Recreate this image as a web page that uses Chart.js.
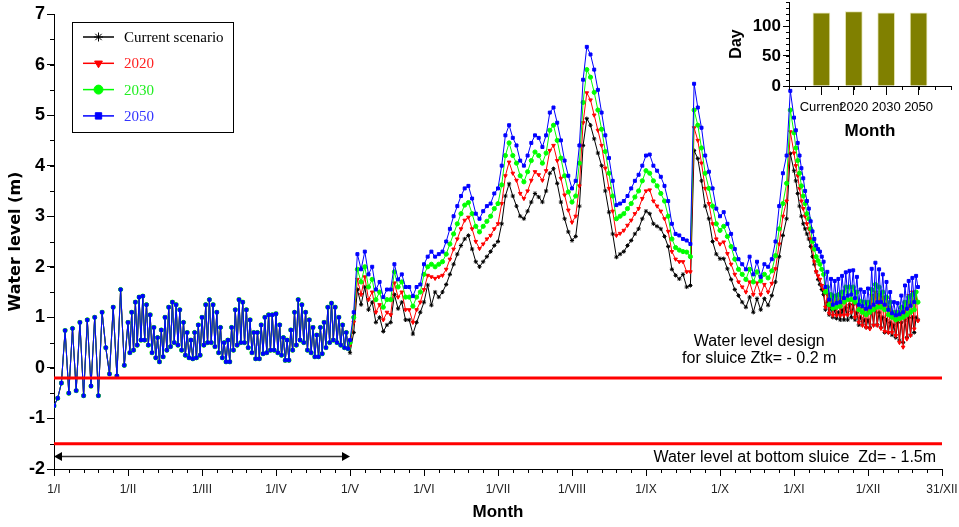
<!DOCTYPE html>
<html>
<head>
<meta charset="utf-8">
<script src="https://cdn.jsdelivr.net/npm/chart.js@4.4.1/dist/chart.umd.min.js"></script>
<style>
  body { margin: 0; background: #fff; }
  #wrap { position: relative; width: 959px; height: 527px; }
  #main { position: absolute; left: 0; top: 0; }
  #inset { position: absolute; left: 700px; top: 0; }
</style>
</head>
<body>
<div id="wrap">
  <canvas id="main" width="959" height="527"></canvas>
  <canvas id="inset" width="259" height="150"></canvas>
</div>
<script>
// tick labels of the month axis (0 = 1/I ... 12 = 31/XII)
const monthLabels = ['1/I', '1/II', '1/III', '1/IV', '1/V', '1/VI', '1/VII', '1/VIII', '1/IX', '1/X', '1/XI', '1/XII', '31/XII'];

// Jan: one reading every 1/20 month, scenarios coincide
const tideJan = [
    -0.75, -0.6, -0.3, 0.74, -0.5, 0.78, -0.45, 0.9, -0.55, 0.95,
    -0.36, 1.0, -0.55, 1.1, 0.4, -0.12, 1.2, -0.16, 1.55, 0.05
];

// Feb - Apr: high / low water every 1/40 month, scenarios coincide
const tideFebApr = [
    0.9, 0.3, 1.1, 0.35, 1.3, 0.45, 1.4, 0.55, 1.42, 0.55, 1.25, 0.45, 1.05, 0.3, 0.8, 0.2, 0.6, 0.12, 0.75, 0.22,
    1.0, 0.35, 1.2, 0.42, 1.3, 0.5, 1.25, 0.45, 1.15, 0.35, 0.9, 0.25, 0.7, 0.2, 0.55, 0.18, 0.7, 0.2, 0.85, 0.25,
    1.0, 0.45, 1.25, 0.5, 1.35, 0.5, 1.25, 0.42, 1.1, 0.3, 0.8, 0.2, 0.5, 0.12, 0.55, 0.12, 0.8, 0.35, 1.15, 0.45,
    1.35, 0.5, 1.3, 0.5, 1.15, 0.4, 0.95, 0.3, 0.7, 0.18, 0.7, 0.18, 0.85, 0.28, 1.0, 0.3, 1.05, 0.35, 1.05, 0.35,
    1.07, 0.3, 0.85, 0.25, 0.6, 0.15, 0.55, 0.15, 0.75, 0.35, 1.1, 0.45, 1.35, 0.55, 1.25, 0.5, 1.1, 0.35, 0.95, 0.3,
    0.8, 0.22, 0.65, 0.22, 0.8, 0.28, 0.9, 0.4, 1.2, 0.5, 1.28, 0.55, 1.2, 0.5, 1.0, 0.45, 0.85, 0.4, 0.7, 0.38
];

// May - Oct: one reading every 1/20 month
const currentMayOct = [
    0.3, 0.7, 1.55, 1.25, 1.6, 1.15, 1.3, 0.9, 1.0, 0.72,
    0.85, 0.9, 1.45, 1.17, 1.3, 0.95, 0.95, 0.67, 0.9, 1.1,
    1.3, 1.64, 1.24, 1.5, 1.4, 1.5, 1.65, 1.85, 2.05, 2.25,
    2.42, 2.55, 2.62, 2.35, 2.1, 2.0, 2.1, 2.2, 2.3, 2.42,
    2.5, 2.85, 3.4, 3.64, 3.4, 3.2, 3.0, 2.95, 3.1, 3.28,
    3.45, 3.38, 3.28, 3.5, 3.85, 3.94, 3.65, 3.28, 2.95, 2.69,
    2.52, 2.6, 3.2, 4.4, 4.93, 4.8, 4.53, 4.25, 4.0, 3.5,
    3.08, 2.65, 2.19, 2.25, 2.3, 2.42, 2.52, 2.65, 2.75, 2.95,
    3.1, 3.05, 2.85, 2.8, 2.75, 2.6, 2.4, 1.95, 1.83, 1.76,
    1.85, 1.6, 1.63, 4.3, 4.14, 3.7, 3.2, 2.95, 2.5, 2.25,
    2.16, 2.16, 1.96, 1.75, 1.55, 1.43, 1.3, 1.2, 1.4, 1.1,
    1.37, 1.15, 1.37, 1.24, 1.43, 1.7, 2.2, 2.62, 2.95, 4.24
];
const s2020MayOct = [
    0.45, 0.9, 1.75, 1.45, 1.8, 1.35, 1.5, 1.1, 1.25, 0.95,
    1.1, 1.05, 1.68, 1.4, 1.5, 1.15, 1.15, 0.9, 1.15, 1.3,
    1.55, 1.83, 1.8, 1.77, 1.8, 1.83, 1.95, 2.15, 2.35, 2.55,
    2.75, 2.92, 2.98, 2.75, 2.5, 2.36, 2.45, 2.55, 2.62, 2.75,
    2.85, 3.25, 3.8, 4.07, 3.85, 3.71, 3.45, 3.35, 3.5, 3.71,
    3.88, 3.82, 3.71, 3.9, 4.3, 4.4, 4.1, 3.75, 3.42, 3.12,
    2.88, 3.0, 3.6, 4.85, 5.44, 5.3, 5.0, 4.7, 4.4, 3.95,
    3.55, 3.1, 2.62, 2.66, 2.72, 2.82, 2.92, 3.05, 3.15, 3.35,
    3.5, 3.52, 3.3, 3.2, 3.1, 2.95, 2.7, 2.3, 2.15, 2.1,
    2.1, 1.9, 1.9, 4.75, 4.5, 4.05, 3.55, 3.25, 2.85, 2.55,
    2.45, 2.49, 2.26, 2.05, 1.85, 1.7, 1.6, 1.5, 1.7, 1.45,
    1.68, 1.45, 1.65, 1.5, 1.67, 1.96, 2.45, 3.0, 3.3, 4.67
];
const s2030MayOct = [
    0.5, 1.0, 1.95, 1.7, 2.0, 1.6, 1.75, 1.35, 1.5, 1.2,
    1.35, 1.35, 1.9, 1.6, 1.7, 1.4, 1.4, 1.22, 1.4, 1.5,
    1.85, 2.0, 2.05, 2.0, 2.05, 2.1, 2.25, 2.45, 2.65, 2.85,
    3.05, 3.22, 3.27, 3.05, 2.8, 2.69, 2.8, 2.9, 3.0, 3.15,
    3.25, 3.62, 4.2, 4.45, 4.2, 4.05, 3.8, 3.68, 3.88, 4.1,
    4.27, 4.2, 4.05, 4.25, 4.7, 4.8, 4.5, 4.15, 3.8, 3.48,
    3.28, 3.4, 4.05, 5.25, 5.9, 5.75, 5.45, 5.1, 4.72, 4.28,
    3.85, 3.4, 2.95, 3.0, 3.05, 3.15, 3.25, 3.38, 3.5, 3.7,
    3.9, 3.85, 3.7, 3.6, 3.45, 3.3, 3.0, 2.55, 2.38, 2.33,
    2.3, 2.29, 2.2, 5.1, 4.8, 4.35, 3.85, 3.55, 3.2, 2.85,
    2.72, 2.8, 2.6, 2.4, 2.15, 1.95, 1.85, 1.75, 1.95, 1.7,
    1.9, 1.72, 1.85, 1.78, 1.92, 2.22, 2.75, 3.25, 3.65, 5.1
];
const s2050MayOct = [
    0.55, 1.1, 2.25, 1.95, 2.3, 1.85, 2.0, 1.55, 1.7, 1.4,
    1.55, 1.55, 2.05, 1.75, 1.85, 1.6, 1.6, 1.42, 1.6, 1.65,
    2.05, 2.2, 2.3, 2.2, 2.25, 2.3, 2.5, 2.75, 3.0, 3.2,
    3.4, 3.55, 3.6, 3.35, 3.05, 2.95, 3.1, 3.2, 3.25, 3.45,
    3.55, 4.0, 4.6, 4.8, 4.55, 4.4, 4.1, 4.0, 4.2, 4.45,
    4.6, 4.55, 4.37, 4.6, 5.05, 5.15, 4.85, 4.5, 4.1, 3.8,
    3.55, 3.7, 4.4, 5.7, 6.35, 6.2, 5.9, 5.5, 5.05, 4.6,
    4.15, 3.7, 3.22, 3.25, 3.3, 3.4, 3.55, 3.7, 3.82, 4.0,
    4.2, 4.22, 4.0, 3.9, 3.78, 3.6, 3.3, 2.85, 2.65, 2.62,
    2.55, 2.52, 2.45, 5.62, 5.15, 4.75, 4.2, 3.88, 3.55, 3.15,
    3.0, 3.08, 2.85, 2.65, 2.35, 2.15, 2.05, 1.95, 2.2, 1.85,
    2.1, 1.8, 2.05, 2.0, 2.15, 2.5, 3.2, 3.85, 4.2, 5.48
];

// Nov - Dec: one reading every 1/40 month
const currentNovDec = [
    3.9, 3.7, 3.45, 3.2, 3.0, 2.85, 2.75, 2.65, 2.55, 2.4, 2.2, 2.05, 1.9, 1.75, 1.65, 1.55,
    1.45, 1.15, 1.3, 1.05, 1.2, 1.0, 1.15, 0.98, 1.1, 0.95, 1.15, 0.95, 1.2, 0.95, 1.25, 1.0, 1.25, 0.95,
    1.1, 0.85, 1.0, 0.85, 0.95, 0.8, 0.95, 0.8, 1.15, 0.85, 1.2, 0.85, 1.1, 0.8, 1.0, 0.7, 0.95, 0.7,
    0.9, 0.65, 0.85, 0.6, 0.9, 0.55, 0.9, 0.5, 0.95, 0.6, 1.0, 0.65, 1.0, 0.7, 1.0, 0.95
];
const s2020NovDec = [
    4.25, 4.0, 3.8, 3.55, 3.3, 3.15, 3.0, 2.85, 2.75, 2.55, 2.35, 2.1, 1.9, 1.82, 1.75, 1.63,
    1.55, 1.2, 1.45, 1.08, 1.43, 1.04, 1.43, 1.04, 1.43, 1.04, 1.4, 1.04, 1.36, 1.05, 1.36, 1.1, 1.36, 1.0,
    1.25, 0.9, 1.18, 0.84, 1.17, 0.8, 1.23, 0.77, 1.43, 0.84, 1.5, 0.84, 1.45, 0.78, 1.4, 0.72, 1.36, 0.7,
    1.2, 0.7, 1.1, 0.64, 1.1, 0.5, 1.17, 0.41, 1.3, 0.57, 1.43, 0.64, 1.5, 0.77, 1.5, 0.93
];
const s2030NovDec = [
    4.65, 4.35, 4.1, 3.85, 3.6, 3.4, 3.25, 3.05, 2.95, 2.75, 2.5, 2.35, 2.2, 2.12, 2.05, 1.95,
    1.85, 1.5, 1.6, 1.25, 1.45, 1.18, 1.42, 1.2, 1.45, 1.22, 1.5, 1.3, 1.6, 1.35, 1.6, 1.35, 1.6, 1.3,
    1.5, 1.15, 1.32, 1.1, 1.3, 1.05, 1.3, 1.1, 1.55, 1.15, 1.65, 1.2, 1.6, 1.2, 1.5, 1.15, 1.4, 1.05,
    1.3, 1.0, 1.1, 0.95, 1.1, 0.97, 1.2, 1.0, 1.3, 1.05, 1.4, 1.1, 1.45, 1.15, 1.5, 1.3
];
const s2050NovDec = [
    4.95, 4.7, 4.45, 4.2, 3.95, 3.75, 3.5, 3.3, 3.15, 2.9, 2.7, 2.55, 2.42, 2.35, 2.3, 2.2,
    2.1, 1.6, 1.9, 1.35, 1.76, 1.25, 1.72, 1.28, 1.76, 1.3, 1.82, 1.38, 1.89, 1.43, 1.92, 1.45, 1.93, 1.38,
    1.8, 1.25, 1.55, 1.22, 1.5, 1.17, 1.57, 1.2, 1.96, 1.25, 2.08, 1.3, 1.95, 1.3, 1.85, 1.25, 1.7, 1.15,
    1.5, 1.08, 1.3, 1.04, 1.28, 1.06, 1.43, 1.1, 1.63, 1.17, 1.72, 1.23, 1.78, 1.3, 1.82, 1.6
];

const designLevel = -0.2;   // Ztk
const bottomLevel = -1.5;   // Zd
const closedSpan = [0, 4];  // 1/I -> 1/V
const closedLevel = -1.75;

// inset bar chart
const insetLabels = ['Current', '2020', '2030', '2050'];
const insetDays = [122, 124, 122, 122];

const sans = '"Liberation Sans", Arial, sans-serif';
Chart.defaults.font.family = sans;
Chart.defaults.color = '#000';

function toPoints(values, start, step) {
    return values.map((v, i) => ({ x: +(start + i * step).toFixed(4), y: v }));
}

function levelSet(label, mayOct, novDec, color, textColor, style, rot, order) {
    const pts = [].concat(
        toPoints(tideJan, 0, 0.05),
        toPoints(tideFebApr, 1, 0.025),
        toPoints(mayOct, 4, 0.05),
        toPoints(novDec, 10, 0.025)
    );
    return {
        label: label,
        inLegend: true,
        legendText: textColor,
        data: pts,
        borderColor: color,
        backgroundColor: color,
        borderWidth: 1,
        pointStyle: style,
        pointRotation: rot,
        pointRadius: 2.1,
        pointBorderWidth: 1,
        order: order
    };
}

function refLine(level) {
    return {
        data: [{ x: 0, y: level }, { x: 12, y: level }],
        borderColor: '#ff0000',
        borderWidth: 3,
        pointRadius: 0,
        order: 0
    };
}

// short minor tick marks
const minorTicks = {
    id: 'minorTicks',
    afterDraw(chart, args, opts) {
        const ctx = chart.ctx;
        ctx.save();
        ctx.strokeStyle = '#000';
        ctx.lineWidth = 1;
        (opts.marks || []).forEach(m => {
            const s = chart.scales[m.scale];
            for (let k = 0; ; k++) {
                const v = s.min + k * m.step;
                if (v > s.max + 1e-6) break;
                const p = Math.round(s.getPixelForValue(v)) + 0.5;
                ctx.beginPath();
                if (s.isHorizontal()) {
                    ctx.moveTo(p, s.top);
                    ctx.lineTo(p, s.top + m.len);
                } else {
                    ctx.moveTo(s.right, p);
                    ctx.lineTo(s.right - m.len, p);
                }
                ctx.stroke();
            }
        });
        ctx.restore();
    }
};

// boxed legend in the upper left corner
const legendBox = {
    id: 'legendBox',
    afterDraw(chart) {
        const ctx = chart.ctx;
        const items = chart.data.datasets.filter(d => d.inLegend).sort((a, b) => b.order - a.order);
        ctx.save();
        ctx.strokeStyle = '#000';
        ctx.lineWidth = 1;
        ctx.strokeRect(72.5, 22.5, 161, 110);
        items.forEach((d, i) => {
            const yy = 37 + i * 26.3;
            ctx.strokeStyle = d.borderColor;
            ctx.fillStyle = d.borderColor;
            ctx.lineWidth = 1.5;
            ctx.beginPath();
            ctx.moveTo(83, yy);
            ctx.lineTo(114, yy);
            ctx.stroke();
            ctx.lineWidth = 1;
            if (Chart.helpers && Chart.helpers.drawPoint) {
                Chart.helpers.drawPoint(ctx, { pointStyle: d.pointStyle, radius: 4.5, rotation: d.pointRotation || 0, borderWidth: 1 }, 98.5, yy);
            }
            ctx.fillStyle = d.legendText;
            ctx.font = '15px "Liberation Serif", "Times New Roman", serif';
            ctx.textAlign = 'left';
            ctx.textBaseline = 'middle';
            ctx.fillText(d.label, 124, yy + 1);
        });
        ctx.restore();
    }
};

// texts and the closing-period arrow
const notes = {
    id: 'notes',
    afterDatasetsDraw(chart) {
        const { ctx, scales: { x, y } } = chart;
        ctx.save();
        ctx.fillStyle = '#000';
        ctx.font = '16px ' + sans;
        ctx.textBaseline = 'middle';
        ctx.textAlign = 'center';
        ctx.fillText('Water level design', x.getPixelForValue(9.53), y.getPixelForValue(0.53));
        ctx.fillText('for sluice Ztk= - 0.2 m', x.getPixelForValue(9.53), y.getPixelForValue(0.18));
        ctx.textAlign = 'right';
        ctx.fillText('Water level at bottom sluice  Zd= - 1.5m', x.getPixelForValue(11.92), y.getPixelForValue(-1.77));

        const x0 = x.getPixelForValue(closedSpan[0]);
        const x1 = x.getPixelForValue(closedSpan[1]);
        const ya = Math.round(y.getPixelForValue(closedLevel)) + 0.5;
        ctx.strokeStyle = '#333';
        ctx.lineWidth = 1.5;
        ctx.beginPath();
        ctx.moveTo(x0 + 6, ya);
        ctx.lineTo(x1 - 6, ya);
        ctx.stroke();
        ctx.fillStyle = '#000';
        ctx.beginPath();
        ctx.moveTo(x0, ya); ctx.lineTo(x0 + 8, ya - 4.5); ctx.lineTo(x0 + 8, ya + 4.5); ctx.closePath();
        ctx.fill();
        ctx.beginPath();
        ctx.moveTo(x1, ya); ctx.lineTo(x1 - 8, ya - 4.5); ctx.lineTo(x1 - 8, ya + 4.5); ctx.closePath();
        ctx.fill();
        ctx.restore();
    }
};

const mainChart = new Chart(document.getElementById('main'), {
    type: 'line',
    data: {
        datasets: [
            refLine(designLevel),
            refLine(bottomLevel),
            levelSet('2050', s2050MayOct, s2050NovDec, '#0000ff', '#3333ff', 'rect', 0, 1),
            levelSet('2030', s2030MayOct, s2030NovDec, '#00ff00', '#22ee22', 'circle', 0, 2),
            levelSet('2020', s2020MayOct, s2020NovDec, '#ff0000', '#ff2222', 'triangle', 180, 3),
            levelSet('Current scenario', currentMayOct, currentNovDec, '#000000', '#000000', 'star', 0, 4)
        ]
    },
    options: {
        responsive: false,
        animation: false,
        layout: { padding: { top: 14, right: 17, left: 0, bottom: 0 } },
        plugins: {
            legend: { display: false },
            tooltip: { enabled: false },
            minorTicks: { marks: [{ scale: 'x', step: 0.2, len: 4 }, { scale: 'y', step: 0.5, len: 4 }] }
        },
        scales: {
            x: {
                type: 'linear',
                min: 0,
                max: 12,
                afterFit(s) { s.height = 58; s.paddingLeft = 0; s.paddingRight = 0; },
                ticks: {
                    stepSize: 1,
                    autoSkip: false,
                    maxRotation: 0,
                    padding: 6,
                    color: '#222',
                    font: { size: 12 },
                    callback: v => monthLabels[v]
                },
                grid: { drawOnChartArea: false, tickLength: 7, color: '#000' },
                border: { color: '#000', width: 1 },
                title: { display: true, text: 'Month', color: '#000', font: { size: 17, weight: 'bold' }, padding: { top: 0, bottom: 4 } }
            },
            y: {
                min: -2,
                max: 7,
                afterFit(s) { s.width = 54; s.paddingTop = 0; s.paddingBottom = 0; },
                ticks: {
                    stepSize: 1,
                    padding: 2,
                    color: '#000',
                    font: { size: 18, weight: 'bold' }
                },
                grid: { drawOnChartArea: false, tickLength: 7, color: '#000' },
                border: { color: '#000', width: 1 },
                title: { display: true, text: 'Water level (m)', color: '#000', font: { size: 16, weight: 'bold', family: '"DejaVu Sans", sans-serif' }, padding: { top: 6, bottom: 0 } }
            }
        }
    },
    plugins: [minorTicks, notes, legendBox]
});

const insetChart = new Chart(document.getElementById('inset'), {
    type: 'bar',
    data: {
        datasets: [{
            data: insetLabels.map((_, i) => ({ x: i + 1, y: insetDays[i] })),
            backgroundColor: '#808000',
            borderColor: '#e4e4b4',
            borderWidth: 1,
            barThickness: 17
        }]
    },
    options: {
        responsive: false,
        animation: false,
        layout: { padding: { top: 2, right: 8, left: 0, bottom: 0 } },
        plugins: {
            legend: { display: false },
            tooltip: { enabled: false },
            minorTicks: { marks: [{ scale: 'x', step: 0.5, len: 4 }, { scale: 'y', step: 10, len: 3 }] }
        },
        scales: {
            x: {
                type: 'linear',
                min: 0,
                max: 5,
                offset: false,
                afterFit(s) { s.height = 64; s.paddingLeft = 0; s.paddingRight = 0; },
                ticks: {
                    stepSize: 1,
                    autoSkip: false,
                    maxRotation: 0,
                    padding: 5,
                    font: { size: 13 },
                    color: '#000',
                    callback: v => insetLabels[v - 1] || ''
                },
                grid: {
                    offset: false,
                    drawOnChartArea: false,
                    tickLength: 9,
                    color: c => (c.tick && c.tick.value >= 1 && c.tick.value <= 4) ? '#000' : 'rgba(0,0,0,0)'
                },
                border: { color: '#000' },
                title: { display: true, text: 'Month', color: '#000', font: { size: 17, weight: 'bold' }, padding: { top: 0, bottom: 8 } }
            },
            y: {
                min: 0,
                max: 140,
                afterFit(s) { s.width = 89; s.paddingTop = 0; s.paddingBottom = 0; },
                ticks: {
                    stepSize: 50,
                    padding: 2,
                    color: '#000',
                    font: { size: 17, weight: 'bold' },
                    callback: v => (v % 50 === 0 ? v : '')
                },
                grid: {
                    drawOnChartArea: false,
                    tickLength: 6,
                    color: c => (c.tick && c.tick.value % 50 === 0) ? '#000' : 'rgba(0,0,0,0)'
                },
                border: { color: '#000' },
                title: { display: true, text: 'Day', color: '#000', font: { size: 16, weight: 'bold' }, padding: { top: 27, bottom: 0 } }
            }
        }
    },
    plugins: [minorTicks]
});
</script>
</body>
</html>
